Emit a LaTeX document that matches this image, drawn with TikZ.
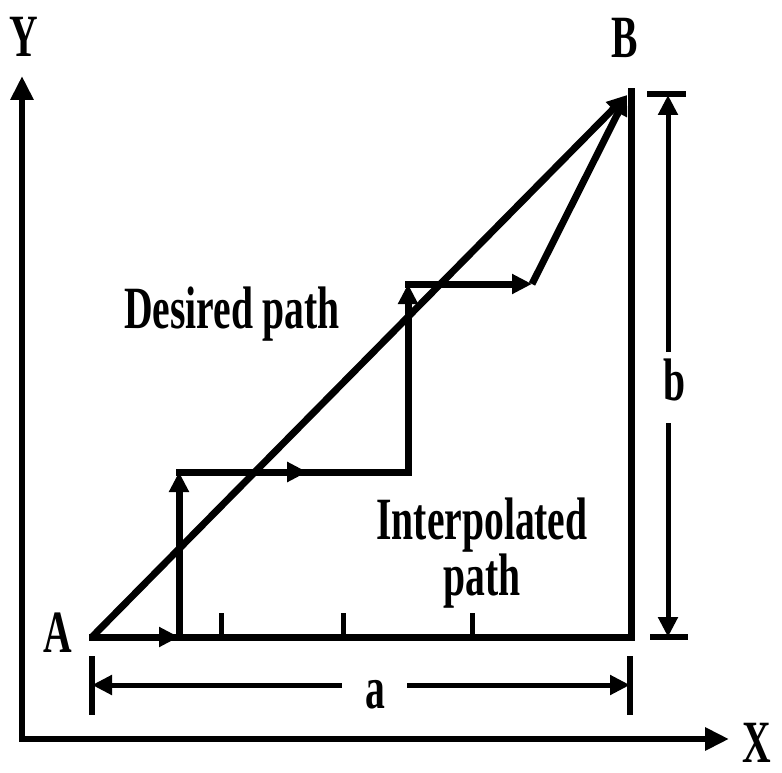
\documentclass[tikz,border=0pt]{standalone}
\usepackage{graphicx}
\usepackage{fontspec}
\setmainfont{Liberation Serif}
\usetikzlibrary{arrows.meta,decorations.markings}
\newcommand{\lbl}[1]{\scalebox{0.66}[1]{\fontsize{60}{60}\selectfont\bfseries #1}}
\begin{document}
\begin{tikzpicture}[x=1pt,y=-1pt,
  pth/.style={line width=7pt,line cap=rect},
  axisline/.style={line width=6pt,-{Triangle[length=24pt,width=22pt]}},
  dimline/.style={line width=5pt},
  barline/.style={line width=6pt},
  tickline/.style={line width=5pt},
  tip/.style={-{Triangle[length=20pt,width=19pt]}},
  midarrow/.style={postaction={decorate},decoration={markings,mark=at position 0.56 with {\arrow{Triangle[length=20pt,width=19pt]}}}},
  txt/.style={inner sep=0pt,anchor=base}]
\useasboundingbox (0,0) rectangle (782,773);
% coordinates
\coordinate (O) at (22,739);
\coordinate (Ytop) at (22,76);
\coordinate (Xend) at (729,739);
\coordinate (A) at (92,637);
\coordinate (B) at (627,95);
\coordinate (R) at (631,637);
\coordinate (RT) at (631,92);
\coordinate (c1) at (179,637);
\coordinate (c2) at (179,472);
\coordinate (c3) at (408,472);
\coordinate (c4) at (408,284);
\coordinate (c5) at (532,284);
% axes
\draw[axisline,line cap=rect] (O) -- (Ytop);
\draw[axisline,line cap=rect] (O) -- (Xend);
% frame
\draw[pth] (A) -- (R);
\draw[pth] (R) -- (RT);
% ticks
\coordinate (t1) at (221,637); \coordinate (t1e) at (221,613);
\coordinate (t2) at (343,637); \coordinate (t2e) at (343,613);
\coordinate (t3) at (472,637); \coordinate (t3e) at (472,613);
\draw[tickline] (t1) -- (t1e);
\draw[tickline] (t2) -- (t2e);
\draw[tickline] (t3) -- (t3e);
% desired path
\draw[pth,line cap=butt,tip] (A) -- (B);
% interpolated path
\draw[pth,tip] (A) -- (c1);
\draw[pth,tip] (c1) -- (c2);
\draw[pth,midarrow] (c2) -- (c3);
\draw[pth,tip] (c3) -- (c4);
\draw[pth,tip] (c4) -- (c5);
\draw[pth,line cap=butt,tip] (c5) -- (B);
% dimension a
\coordinate (aL) at (92,685); \coordinate (aL1) at (342,685);
\coordinate (aR) at (630,685); \coordinate (aR1) at (407,685);
\draw[dimline,tip] (aL1) -- (aL);
\draw[dimline,tip] (aR1) -- (aR);
\coordinate (aLt) at (92,656); \coordinate (aLb) at (92,715);
\coordinate (aRt) at (630,656); \coordinate (aRb) at (630,715);
\draw[barline] (aLt) -- (aLb);
\draw[barline] (aRt) -- (aRb);
% dimension b
\coordinate (bT) at (668,95); \coordinate (bT1) at (668,352);
\coordinate (bB) at (668,637); \coordinate (bB1) at (668,423);
\draw[dimline,tip] (bT1) -- (bT);
\draw[dimline,tip] (bB1) -- (bB);
\coordinate (bTl) at (647,94); \coordinate (bTr) at (686,94);
\coordinate (bBl) at (650,637); \coordinate (bBr) at (688,637);
\draw[barline] (bTl) -- (bTr);
\draw[barline] (bBl) -- (bBr);
% labels
\node[txt] (lY) at (24,57) {\lbl{Y}};
\node[txt] (lX) at (757,762) {\lbl{X}};
\node[txt] (lA) at (58,652) {\lbl{A}};
\node[txt] (lB) at (625,58) {\lbl{B}};
\node[txt] (la) at (375,708) {\lbl{a}};
\node[txt] (lb) at (675,400) {\lbl{b}};
\node[txt] (ldes) at (232,328) {\lbl{Desired path}};
\node[txt] (lint) at (482,595) {\lbl{\begin{tabular}[b]{@{}c@{}}Interpolated\\[-4pt]path\end{tabular}}};
\end{tikzpicture}
\end{document}
